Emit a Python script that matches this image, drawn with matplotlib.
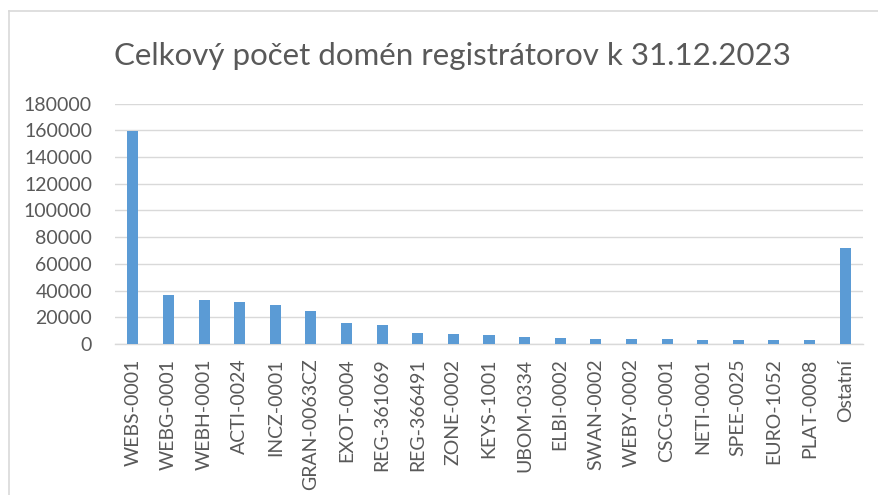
import numpy as np
import matplotlib
matplotlib.use("Agg")
import matplotlib.pyplot as plt
from matplotlib.lines import Line2D

# ========== DATA ==========

registrars = ["WEBS-0001", "WEBG-0001", "WEBH-0001", "ACTI-0024", "INCZ-0001",
              "GRAN-0063CZ", "EXOT-0004", "REG-361069", "REG-366491", "ZONE-0002",
              "KEYS-1001", "UBOM-0334", "ELBI-0002", "SWAN-0002", "WEBY-0002",
              "CSCG-0001", "NETI-0001", "SPEE-0025", "EURO-1052", "PLAT-0008",
              "Ostatní"]
domains = [159800, 36700, 33000, 31700, 29200,
           24700, 15500, 14200, 8000, 7500,
           7000, 5200, 4700, 3700, 3500,
           3500, 3000, 3000, 2700, 2700,
           71700]
y_ticks = [0, 20000, 40000, 60000, 80000, 100000, 120000, 140000, 160000, 180000]

title = "Celkový počet domén registrátorov k 31.12.2023"

# ========== PLOT ==========

plt.rcParams["font.family"] = ["Lato", "DejaVu Sans"]
text_col = "#595959"
grid_col = "#D9D9D9"

fig = plt.figure(figsize=(8.79, 4.95), dpi=100)
ax = fig.add_axes([115 / 879, (495 - 344) / 495, 748 / 879, 240.3 / 495])

x = np.arange(len(registrars))
ax.bar(x, domains, width=0.31, color="#5B9BD5", zorder=3)

ax.set_xlim(-0.5, len(registrars) - 0.5)
ax.set_ylim(0, 180000)
ax.set_yticks(y_ticks)
ax.set_yticklabels([str(v) for v in y_ticks])
ax.set_xticks(x)
ax.set_xticklabels(registrars, rotation=90)

ax.grid(axis="y", color=grid_col, linewidth=1.0, zorder=0)
for side in ["top", "right", "left"]:
    ax.spines[side].set_visible(False)
ax.spines["bottom"].set_color(grid_col)
ax.spines["bottom"].set_linewidth(1.0)

ax.tick_params(axis="y", length=0, pad=16.5, labelsize=14, labelcolor=text_col)
ax.tick_params(axis="x", length=0, pad=10.5, labelsize=14, labelcolor=text_col)

fig.text(452 / 879, 1 - 56 / 495, title, ha="center", va="center", fontsize=22.5,
         color=text_col)

# chart frame (left and top edges visible)
fig.add_artist(Line2D([9 / 879, 9 / 879], [0, 1 - 11 / 495], transform=fig.transFigure,
                      color=grid_col, linewidth=1.2))
fig.add_artist(Line2D([9 / 879, 1], [1 - 11 / 495, 1 - 11 / 495], transform=fig.transFigure,
                      color=grid_col, linewidth=1.2))

plt.savefig("out.png", dpi=100)
